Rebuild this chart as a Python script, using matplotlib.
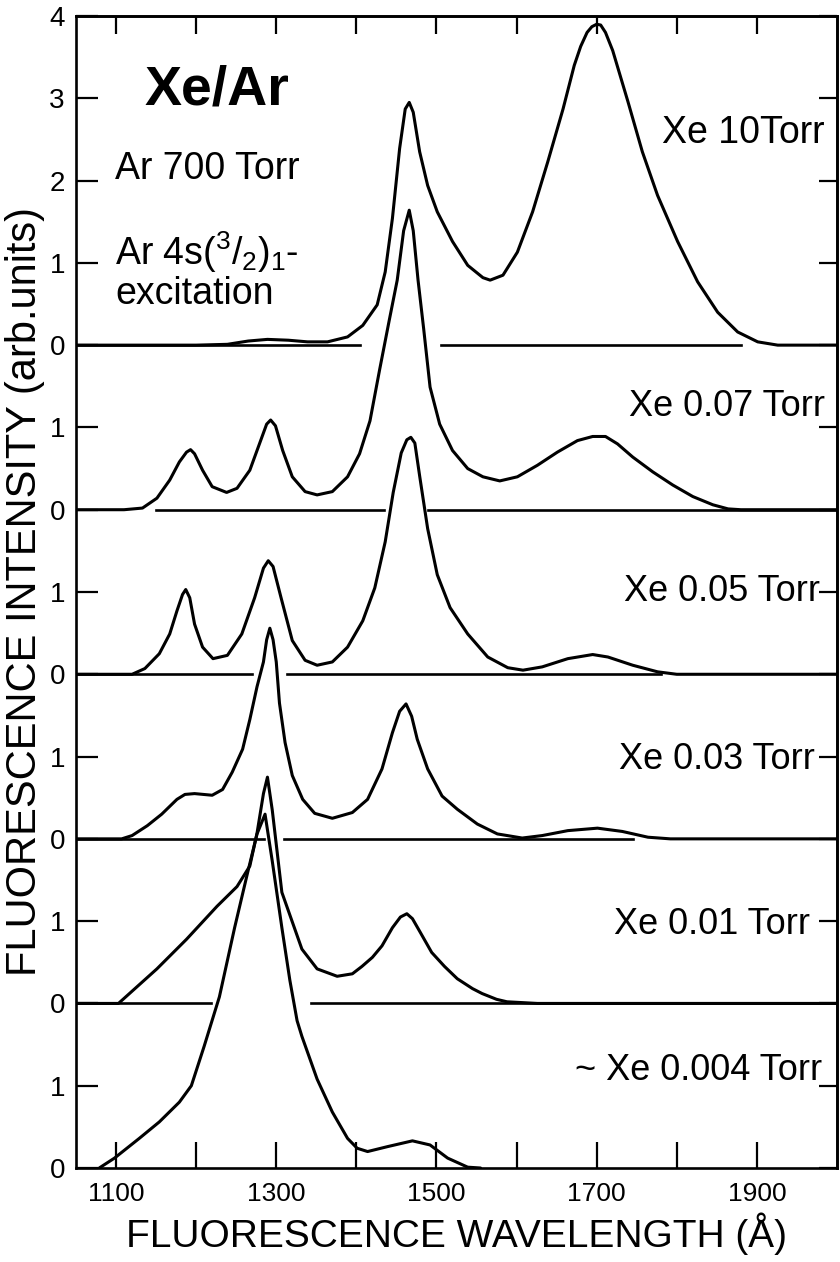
import numpy as np
import matplotlib
matplotlib.use('Agg')
import matplotlib.pyplot as plt
from matplotlib.ticker import FixedLocator, FixedFormatter, NullFormatter

# spectra: wavelength (A) and intensity above each zero line
wl_10 = [1050, 1200, 1239, 1265, 1289, 1315, 1339, 1364, 1389, 1408, 1426, 1436, 1445,
         1454, 1461, 1466, 1471, 1479, 1489, 1501, 1520, 1539, 1558, 1567, 1583, 1601,
         1620, 1639, 1658, 1672, 1680, 1688, 1694, 1700, 1705, 1711, 1720, 1739, 1757,
         1776, 1801, 1826, 1851, 1876, 1901, 1926, 2000]
int_10 = [0, 0, 0.01, 0.05, 0.07, 0.06, 0.04, 0.04, 0.1, 0.24, 0.49, 0.89, 1.54,
          2.39, 2.87, 2.95, 2.83, 2.35, 1.94, 1.62, 1.26, 0.97, 0.82, 0.79, 0.85, 1.13,
          1.62, 2.23, 2.87, 3.4, 3.63, 3.8, 3.87, 3.9, 3.89, 3.8, 3.58, 2.96, 2.35,
          1.82, 1.26, 0.77, 0.4, 0.16, 0.04, 0, 0]

wl_007 = [1050, 1110, 1133, 1151, 1167, 1179, 1188, 1193, 1198, 1208, 1220, 1238, 1251,
          1267, 1279, 1288, 1293, 1299, 1308, 1320, 1336, 1351, 1370, 1389, 1404, 1417,
          1429, 1441, 1451, 1459, 1466, 1471, 1477, 1484, 1492, 1504, 1520, 1539, 1558,
          1579, 1601, 1626, 1651, 1676, 1695, 1711, 1726, 1745, 1770, 1795, 1820, 1845,
          1864, 1880, 2000]
int_007 = [0, 0, 0.02, 0.14, 0.36, 0.58, 0.7, 0.73, 0.68, 0.48, 0.28, 0.21, 0.26,
           0.48, 0.8, 1.04, 1.09, 1.02, 0.72, 0.4, 0.22, 0.18, 0.22, 0.4, 0.68, 1.08,
           1.7, 2.3, 2.79, 3.39, 3.64, 3.39, 2.79, 2.2, 1.49, 1.04, 0.72, 0.5, 0.4,
           0.35, 0.4, 0.54, 0.7, 0.84, 0.89, 0.89, 0.8, 0.64, 0.46, 0.3, 0.16, 0.06,
           0.01, 0, 0]

wl_005 = [1050, 1120, 1136, 1154, 1167, 1176, 1183, 1187, 1192, 1198, 1208, 1221, 1239,
          1257, 1273, 1284, 1290, 1296, 1306, 1320, 1336, 1351, 1370, 1389, 1408, 1423,
          1436, 1446, 1456, 1463, 1468, 1473, 1479, 1489, 1501, 1517, 1539, 1564, 1589,
          1608, 1632, 1664, 1695, 1714, 1745, 1776, 1800, 2000]
int_005 = [0, 0, 0.07, 0.25, 0.49, 0.77, 0.97, 1.03, 0.93, 0.61, 0.33, 0.19, 0.23,
           0.49, 0.93, 1.29, 1.38, 1.31, 0.93, 0.41, 0.17, 0.11, 0.15, 0.33, 0.65, 1.05,
           1.61, 2.21, 2.69, 2.85, 2.88, 2.81, 2.41, 1.77, 1.21, 0.81, 0.49, 0.21, 0.08,
           0.05, 0.09, 0.19, 0.24, 0.21, 0.11, 0.03, 0, 0]

wl_003 = [1050, 1107, 1120, 1139, 1157, 1176, 1186, 1198, 1220, 1233, 1245, 1258, 1267,
          1276, 1284, 1288, 1292, 1296, 1300, 1304, 1311, 1320, 1333, 1348, 1370, 1395,
          1414, 1432, 1445, 1454, 1462, 1469, 1476, 1489, 1507, 1526, 1551, 1576, 1607,
          1632, 1664, 1701, 1732, 1764, 1792, 2000]
int_003 = [0, 0, 0.04, 0.16, 0.3, 0.48, 0.54, 0.55, 0.53, 0.6, 0.81, 1.09, 1.45,
           1.85, 2.15, 2.42, 2.56, 2.42, 2.15, 1.65, 1.17, 0.77, 0.48, 0.31, 0.25, 0.32,
           0.48, 0.85, 1.29, 1.55, 1.64, 1.49, 1.21, 0.85, 0.52, 0.36, 0.18, 0.06, 0.01,
           0.04, 0.1, 0.13, 0.09, 0.02, 0, 0]

wl_001 = [1050, 1103, 1151, 1188, 1226, 1251, 1267, 1276, 1284, 1289, 1295, 1307, 1332,
          1351, 1376, 1395, 1407, 1420, 1432, 1445, 1455, 1463, 1470, 1480, 1494, 1510,
          1526, 1545, 1557, 1575, 1588, 1626, 2000]
int_001 = [0, 0, 0.42, 0.78, 1.18, 1.42, 1.67, 2.07, 2.55, 2.75, 2.35, 1.35, 0.66,
           0.42, 0.33, 0.36, 0.45, 0.56, 0.7, 0.92, 1.05, 1.09, 1.03, 0.86, 0.62, 0.45,
           0.3, 0.18, 0.12, 0.05, 0.02, 0, 0]

wl_0004 = [1079, 1098, 1129, 1154, 1179, 1194, 1210, 1229, 1248, 1264, 1276, 1286, 1295,
           1307, 1317, 1326, 1332, 1351, 1370, 1389, 1401, 1414, 1439, 1470, 1492, 1514,
           1539, 1555]
int_0004 = [0, 0.12, 0.36, 0.56, 0.8, 1.0, 1.48, 2.08, 2.92, 3.58, 4.06, 4.3, 3.73,
            2.92, 2.28, 1.79, 1.6, 1.08, 0.68, 0.36, 0.24, 0.2, 0.26, 0.33, 0.28, 0.12,
            0.01, 0]

spectra = [(wl_10, int_10), (wl_007, int_007), (wl_005, int_005),
           (wl_003, int_003), (wl_001, int_001), (wl_0004, int_0004)]
offsets = [10, 8, 6, 4, 2, 0]
pressure_labels = ['Xe 10Torr', 'Xe 0.07 Torr', 'Xe 0.05 Torr', 'Xe 0.03 Torr',
                   'Xe 0.01 Torr', '~ Xe 0.004 Torr']
# zero lines as drawn, with the gaps where a peak passes through
zero_segments = [[(1050, 1405), (1506, 1880)],
                 [(1150, 1434), (1490, 2000)],
                 [(1050, 1270), (1313, 1780)],
                 [(1050, 1285), (1310, 1745)],
                 [(1050, 1218), (1343, 2000)],
                 []]

ytick_pos = list(range(15))
ytick_lab = ['0', '1', '0', '1', '0', '1', '0', '1', '0', '1', '0', '1', '2', '3', '4']
xtick_major = [1100, 1300, 1500, 1700, 1900]
xtick_minor = [1200, 1400, 1600, 1800]

plt.rcParams['font.family'] = ['Liberation Sans', 'DejaVu Sans']
plt.rcParams['mathtext.fontset'] = 'custom'
plt.rcParams['mathtext.rm'] = 'Liberation Sans'

fig = plt.figure(figsize=(8.4, 12.62), dpi=100)
ax = fig.add_axes([76 / 840, 94 / 1262, 761 / 840, 1152 / 1262])

lw = 2.2
for (wl, inten), off, segs in zip(spectra, offsets, zero_segments):
    ax.plot(wl, np.array(inten) + off, color='black', lw=lw,
            solid_joinstyle='round', solid_capstyle='round')
    for x0, x1 in segs:
        ax.plot([x0, x1], [off, off], color='black', lw=1.9)

ax.set_xlim(1050, 2000)
ax.set_ylim(0, 14)

for s in ax.spines.values():
    s.set_linewidth(1.9)

ax.yaxis.set_major_locator(FixedLocator(ytick_pos))
ax.yaxis.set_major_formatter(FixedFormatter(ytick_lab))
ax.xaxis.set_major_locator(FixedLocator(xtick_major))
ax.xaxis.set_minor_locator(FixedLocator(xtick_minor))
ax.xaxis.set_minor_formatter(NullFormatter())
ax.tick_params(axis='x', which='both', direction='in', length=19, width=1.6,
               labelsize=19, pad=10)
ax.tick_params(axis='y', direction='in', length=16, width=1.6, labelsize=20, pad=8)

top = ax.secondary_xaxis('top')
top.xaxis.set_major_locator(FixedLocator(xtick_major + xtick_minor))
top.tick_params(direction='in', length=13, width=1.6, labeltop=False)
right = ax.secondary_yaxis('right')
right.yaxis.set_major_locator(FixedLocator(ytick_pos))
right.tick_params(direction='in', length=13, width=1.6, labelright=False)
for sec in (top, right):
    for s in sec.spines.values():
        s.set_linewidth(1.9)

ax.set_xlabel('FLUORESCENCE WAVELENGTH (Å)', fontsize=28, labelpad=5)
ax.set_ylabel('FLUORESCENCE INTENSITY (arb.units)', fontsize=30, labelpad=3)

ax.text(1136, 13.1, 'Xe/Ar', fontsize=40, fontweight='bold', va='center', ha='left')
ax.text(1099, 12.14, 'Ar 700 Torr', fontsize=27, va='center', ha='left')
ax.text(1099, 11.13, r'Ar 4s($\mathregular{^3/_2}$)$\mathregular{_1}$-', fontsize=27,
        va='center', ha='left')
ax.text(1099, 10.62, 'excitation', fontsize=27, va='center', ha='left')

label_y = [12.58, 9.26, 7.01, 4.97, 2.96, 1.18]
label_x = [1985, 1985, 1979, 1972, 1966, 1981]
label_size = [27, 26, 26, 26, 26, 26]
for txt, lx, ly, fs in zip(pressure_labels, label_x, label_y, label_size):
    ax.text(lx, ly, txt, fontsize=fs, ha='right', va='center')

fig.savefig('out.png', dpi=100)
